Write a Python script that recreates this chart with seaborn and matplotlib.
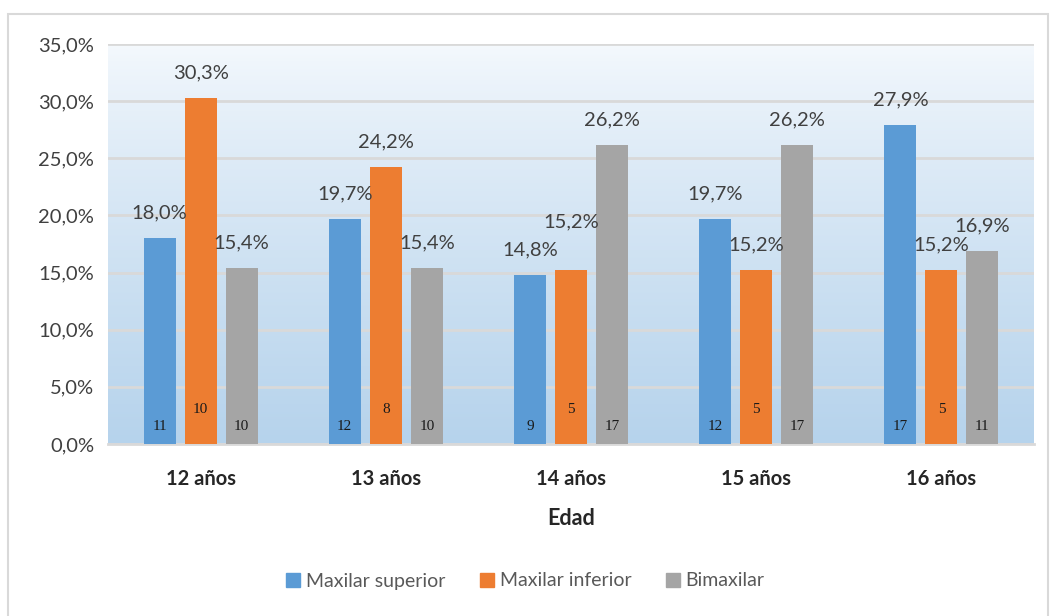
import numpy as np
import pandas as pd
import seaborn as sns
import matplotlib.pyplot as plt
from matplotlib.patches import Rectangle

# data
edades = ["12 años", "13 años", "14 años", "15 años", "16 años"]
series = ["Maxilar superior", "Maxilar inferior", "Bimaxilar"]
pct_superior = [18.0, 19.7, 14.8, 19.7, 27.9]
pct_inferior = [30.3, 24.2, 15.2, 15.2, 15.2]
pct_bimaxilar = [15.4, 15.4, 26.2, 26.2, 16.9]
n_superior = [11, 12, 9, 12, 17]
n_inferior = [10, 8, 5, 5, 5]
n_bimaxilar = [10, 10, 17, 17, 11]

colors = ["#5b9bd5", "#ed7d31", "#a5a5a5"]

rows = []
for s, vals in zip(series, [pct_superior, pct_inferior, pct_bimaxilar]):
    for e, v in zip(edades, vals):
        rows.append({"Edad": e, "Serie": s, "pct": v})
df = pd.DataFrame(rows)
counts = [n_superior, n_inferior, n_bimaxilar]

sns.set_theme(style="white")
plt.rcParams['font.family'] = ['Lato', 'DejaVu Sans']

fig = plt.figure(figsize=(10.51, 6.16), dpi=100)
# outer chart border
fig.patches.append(Rectangle((8 / 1051, -0.01), 1040 / 1051, 1 - 14 / 616 + 0.01,
                             transform=fig.transFigure, fill=False,
                             edgecolor="#d9d9d9", linewidth=1.5))
ax = fig.add_axes([108 / 1051, 1 - 444 / 616, (1034 - 108) / 1051, 400 / 616])

sns.barplot(data=df, x="Edad", y="pct", hue="Serie", palette=colors,
            saturation=1, width=0.665, gap=0.22, linewidth=0,
            ax=ax, legend=False, zorder=3)

ax.set_ylim(0, 35)
ax.set_xlim(-0.5, 4.5)

# gradient background
grad = np.linspace(0, 1, 256).reshape(-1, 1)
top = np.array([245, 249, 253]) / 255
bot = np.array([182, 211, 236]) / 255
img = top + (bot - top) * grad[:, :, None] ** 0.8
ax.imshow(img, extent=[-0.5, 4.5, 0, 35], aspect="auto", zorder=0)

ax.set_yticks(np.arange(0, 36, 5))
ax.set_yticklabels([f"{v:.1f}%".replace(".", ",") for v in np.arange(0, 36, 5)],
                   fontsize=14.5, color="#404040")
ax.yaxis.grid(True, color="#d9d9d9", linewidth=2, zorder=1)
ax.set_axisbelow(False)
for sp in ["top", "right", "left"]:
    ax.spines[sp].set_visible(False)
ax.spines["bottom"].set_color("#d9d9d9")
ax.spines["bottom"].set_linewidth(2)
ax.tick_params(axis="both", length=0, pad=10)
ax.set_xticks(range(len(edades)))
ax.set_xticklabels(edades, fontsize=14.5, fontweight="bold", color="#262626")
ax.tick_params(axis="x", pad=18)
ax.set_xlabel("Edad", fontsize=15.5, fontweight="bold", color="#262626", labelpad=14)
ax.set_ylabel("")

count_y = [1.5, 3.0, 1.5]
pct_labels = []
for cont, vals, ns, cy in zip(ax.containers, [pct_superior, pct_inferior, pct_bimaxilar],
                              counts, count_y):
    anns = ax.bar_label(cont, labels=[f"{v:.1f}%".replace(".", ",") for v in vals],
                        padding=12, fontsize=14.5, color="#404040")
    pct_labels.append(anns)
    for bar, n in zip(cont, ns):
        cx = bar.get_x() + bar.get_width() / 2
        ax.text(cx, cy, str(n), ha="center", va="center", fontsize=11,
                family="Liberation Serif", color="#1a1a1a", zorder=4)

# lift a label that collides with its left neighbour (as the original does)
fig.canvas.draw()
r = fig.canvas.get_renderer()
for i in range(1, len(pct_labels)):
    for left, cur in zip(pct_labels[i - 1], pct_labels[i]):
        if left.get_window_extent(r).overlaps(cur.get_window_extent(r)):
            cur.xyann = (0, 12 + 17)

handles = [Rectangle((0, 0), 1, 1, color=c) for c in colors]
fig.legend(handles, series, loc="center", bbox_to_anchor=(0.5, 1 - 581 / 616),
           ncol=3, frameon=False, fontsize=14, handlelength=0.7, handleheight=0.7,
           columnspacing=1.8, handletextpad=0.3, labelcolor="#595959")

fig.savefig("out.png", dpi=100)
